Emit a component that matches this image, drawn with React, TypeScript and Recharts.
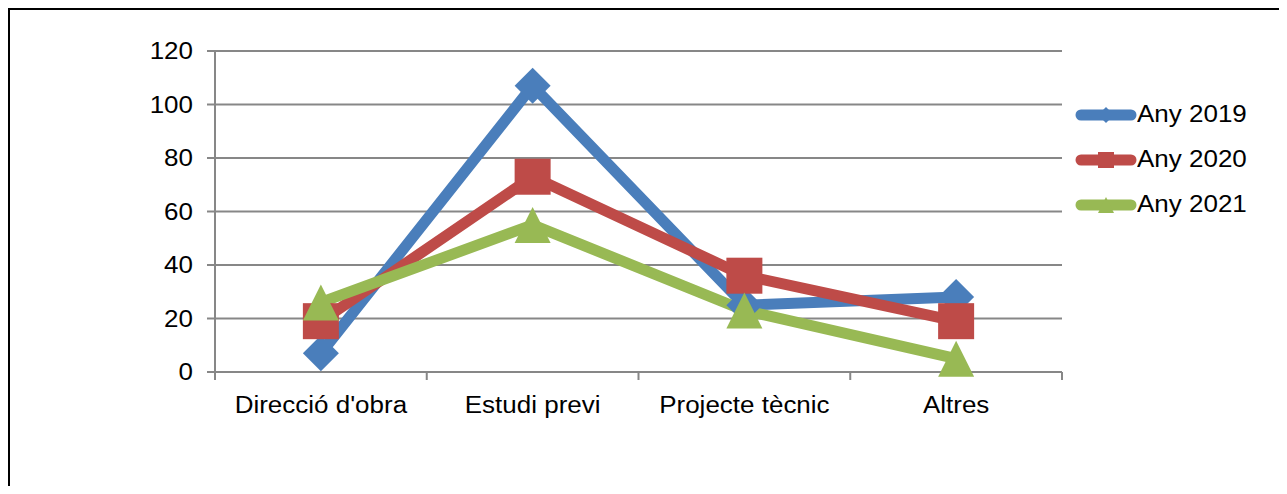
import React from 'react';
import { LineChart, Line, XAxis, YAxis, CartesianGrid } from 'recharts';

const categories = ["Direcció d'obra", 'Estudi previ', 'Projecte tècnic', 'Altres'];
const any2019 = [7, 107, 25, 28];
const any2020 = [19, 73, 36, 19];
const any2021 = [26, 55, 23, 5];
const yTicks = [0, 20, 40, 60, 80, 100, 120];

const series = [
  { key: 'Any 2019', values: any2019, color: '#4A7EBB', shape: 'diamond' },
  { key: 'Any 2020', values: any2020, color: '#BE4B48', shape: 'square' },
  { key: 'Any 2021', values: any2021, color: '#98B954', shape: 'triangle' },
];

// categories sit in the middle of each band, tick marks on the band edges
const data = categories.map((name, i) => {
  const row: any = { x: i + 0.5, name };
  series.forEach(s => (row[s.key] = s.values[i]));
  return row;
});
const xTicks = [0, 0.5, 1, 1.5, 2, 2.5, 3, 3.5, 4];

const FONT = 'Liberation Sans, Arial, sans-serif';
const FONT_SIZE = 23;
const STRETCH = 1.13;
const GRID = '#878787';

function Marker({ shape, cx, cy, r, color }: any) {
  if (shape === 'diamond') {
    return <polygon points={`${cx},${cy - r} ${cx + r},${cy} ${cx},${cy + r} ${cx - r},${cy}`} fill={color} />;
  }
  if (shape === 'square') {
    return <rect x={cx - r} y={cy - r} width={r * 2} height={r * 2} fill={color} />;
  }
  return <polygon points={`${cx},${cy - r} ${cx + r},${cy + r} ${cx - r},${cy + r}`} fill={color} />;
}

function XTick({ x, y, payload }: any) {
  const v = payload.value;
  if (Number.isInteger(v)) {
    return <line x1={x} y1={y} x2={x} y2={y + 8} stroke={GRID} strokeWidth={2} />;
  }
  return (
    <g transform={`translate(${x},${y + 41}) scale(${STRETCH},1)`}>
      <text x={0} y={0} textAnchor="middle" fontFamily={FONT} fontSize={FONT_SIZE} fill="#000">
        {categories[Math.floor(v)]}
      </text>
    </g>
  );
}

function YTick({ x, y, payload }: any) {
  return (
    <g transform={`translate(${x},${y}) scale(${STRETCH},1)`}>
      <text x={0} y={0} dy="0.36em" textAnchor="end" fontFamily={FONT} fontSize={FONT_SIZE} fill="#000">
        {payload.value}
      </text>
    </g>
  );
}

export default function App() {
  return (
    <div
      style={{
        position: 'relative',
        width: 1279,
        height: 478,
        boxSizing: 'border-box',
        borderTop: '2px solid #000',
        borderLeft: '2px solid #000',
        background: '#fff',
        overflow: 'hidden',
      }}
    >
      <LineChart
        width={1269}
        height={476}
        data={data}
        margin={{ top: 41, right: 217, left: 0, bottom: 54 }}
      >
        <CartesianGrid vertical={false} stroke={GRID} strokeWidth={2} />
        <XAxis
          type="number"
          dataKey="x"
          domain={[0, 4]}
          ticks={xTicks}
          interval={0}
          height={60}
          tickLine={false}
          tickSize={0}
          tickMargin={0}
          axisLine={{ stroke: GRID, strokeWidth: 2 }}
          tick={<XTick />}
        />
        <YAxis
          type="number"
          domain={[0, 120]}
          ticks={yTicks}
          interval={0}
          width={205}
          tickSize={8}
          tickMargin={14}
          tickLine={{ stroke: GRID, strokeWidth: 2 }}
          axisLine={{ stroke: GRID, strokeWidth: 2 }}
          tick={<YTick />}
        />
        {series.map(s => (
          <Line
            key={s.key}
            dataKey={s.key}
            type="linear"
            stroke={s.color}
            strokeWidth={11}
            strokeLinejoin="round"
            isAnimationActive={false}
            activeDot={false}
            dot={(p: any) => (
              <Marker key={`${s.key}-${p.index}`} shape={s.shape} cx={p.cx} cy={p.cy} r={18} color={s.color} />
            )}
          />
        ))}
      </LineChart>
      <div style={{ position: 'absolute', left: 1065, top: 82, fontFamily: FONT, fontSize: FONT_SIZE }}>
        {series.map(s => (
          <div key={s.key} style={{ height: 45, display: 'flex', alignItems: 'center' }}>
            <svg width={62} height={24} style={{ display: 'block' }}>
              <line x1={6} y1={12} x2={56} y2={12} stroke={s.color} strokeWidth={11} strokeLinecap="round" />
              <Marker shape={s.shape} cx={31} cy={12} r={8} color={s.color} />
            </svg>
            <span style={{ display: 'inline-block', transform: `scaleX(${STRETCH})`, transformOrigin: 'left center', whiteSpace: 'nowrap' }}>
              {s.key}
            </span>
          </div>
        ))}
      </div>
    </div>
  );
}
